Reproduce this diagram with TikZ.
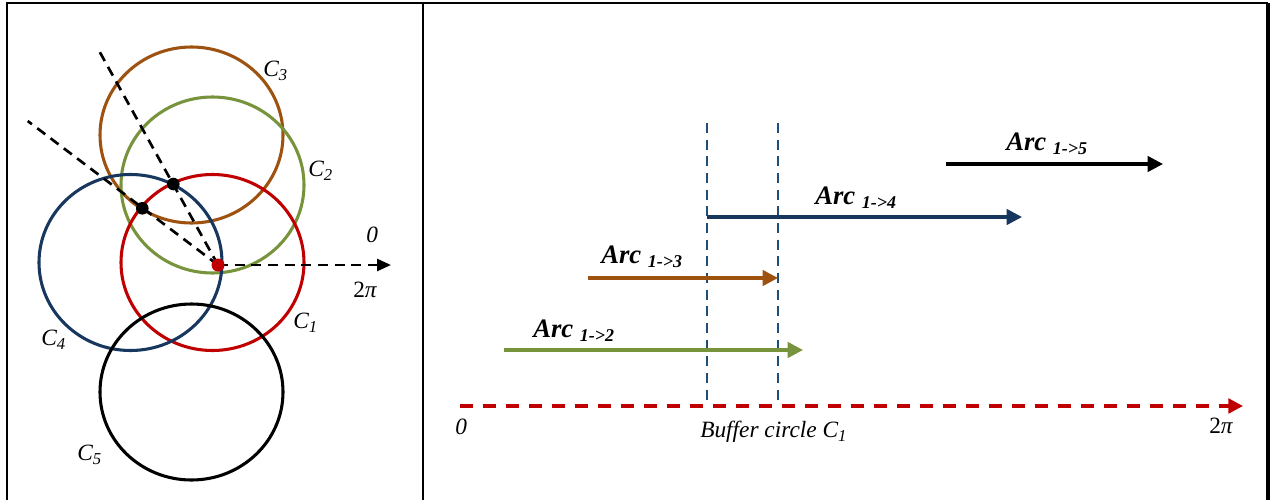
\documentclass[tikz,border=0pt]{standalone}
\usepackage{fontspec}
\setmainfont{Liberation Serif}
\usetikzlibrary{arrows.meta}
\definecolor{cred}{RGB}{192,0,0}
\definecolor{cgreen}{RGB}{119,147,60}
\definecolor{cbrown}{RGB}{158,82,16}
\definecolor{cnavy}{RGB}{23,55,94}
\definecolor{cdblue}{RGB}{31,78,121}
\newcommand{\arclab}[1]{{\fontsize{20}{22}\selectfont\bfseries\itshape Arc {\fontsize{13.5}{14}\selectfont\raisebox{-3pt}{#1}}}}
\newcommand{\clab}[1]{{\fontsize{17.5}{20}\selectfont\itshape C\raisebox{-3.2pt}{\fontsize{12.5}{14}\selectfont #1}}}
\begin{document}
\begin{tikzpicture}[x=0.75pt,y=-0.75pt,
  frame/.style={line width=1.9pt,black},
  circ/.style={line width=2.3pt},
  dline/.style={line width=2pt,black,dash pattern=on 7.5pt off 5pt},
  vline/.style={line width=2pt,cdblue,dash pattern=on 7.5pt off 5pt},
  arcarrow/.style={line width=2.5pt,-{Triangle[length=11.5pt,width=11.5pt]}},
  lbl/.style={inner sep=0pt,anchor=base west}]
\useasboundingbox (0,0) rectangle (1271,500);
% frame
\coordinate (TL) at (7,3);
\coordinate (TR) at (1268,3);
\coordinate (BL) at (7,500);
\coordinate (BR) at (1268,500);
\coordinate (DT) at (423,3);
\coordinate (DB) at (423,500);
\draw[frame] (BL) -- (TL) -- (TR);
\draw[frame,line width=2.6pt] (TR) -- (BR);
\draw[frame] (DT) -- (DB);
% circles
\draw[circ,cbrown] (191.5,135) ellipse [x radius=91.5, y radius=88];
\draw[circ,cgreen] (212.5,185) ellipse [x radius=91.5, y radius=88];
\draw[circ,cred] (212.5,262.5) ellipse [x radius=91.5, y radius=88];
\draw[circ,cnavy] (130.5,262.5) ellipse [x radius=91.5, y radius=88];
\draw[circ,black] (191.5,392) ellipse [x radius=91.5, y radius=88];
% rays
\coordinate (O) at (218,265);
\coordinate (P1) at (173.3,184);
\coordinate (P2) at (142.3,208.3);
\coordinate (E1) at (97.7,48.3);
\coordinate (E2) at (27.7,121);
\coordinate (E0) at (391,265);
\draw[dline] (O) -- (E1);
\draw[dline] (O) -- (E2);
\draw[dline,-{Triangle[length=10.5pt,width=9pt]}] (O) -- (E0);
\fill[black] (P1) circle [radius=6.3];
\fill[black] (P2) circle [radius=6.3];
\fill[cred] (O) circle [radius=6.5];
% circle labels
\node[lbl] (l3) at (263,76.7) {\clab{3}};
\node[lbl] (l2) at (308,176.7) {\clab{2}};
\node[lbl] (l1) at (293,328) {\clab{1}};
\node[lbl] (l4) at (41,345) {\clab{4}};
\node[lbl] (l5) at (77,460) {\clab{5}};
\node[lbl] (z0) at (366,242) {\fontsize{17.5}{20}\selectfont\itshape 0};
\node[lbl] (tp) at (353,297) {\fontsize{17.5}{20}\selectfont 2\textit{π}};
% right panel
\coordinate (V1t) at (707,123);
\coordinate (V1b) at (707,405);
\coordinate (V2t) at (778,123);
\coordinate (V2b) at (778,405);
\draw[vline] (V1t) -- (V1b);
\draw[vline] (V2t) -- (V2b);
\coordinate (Rs) at (460,406);
\coordinate (Re) at (1243,406);
\draw[line width=2.4pt,cred,dash pattern=on 9.75pt off 7.5pt,-{Triangle[length=11pt,width=11pt]}] (Rs) -- (Re);
\coordinate (Gs) at (504,350);
\coordinate (Ge) at (803,350);
\draw[arcarrow,cgreen] (Gs) -- (Ge);
\coordinate (Bs) at (588,278);
\coordinate (Be) at (778,278);
\draw[arcarrow,cbrown] (Bs) -- (Be);
\coordinate (Ns) at (707,217);
\coordinate (Ne) at (1022,217);
\draw[arcarrow,cnavy] (Ns) -- (Ne);
\coordinate (Ks) at (946,164);
\coordinate (Ke) at (1163,164);
\draw[arcarrow,black] (Ks) -- (Ke);
\node[lbl] (a2) at (533,337.7) {\arclab{1->2}};
\node[lbl] (a3) at (601,263.3) {\arclab{1->3}};
\node[lbl] (a4) at (815,204.3) {\arclab{1->4}};
\node[lbl] (a5) at (1006,150) {\arclab{1->5}};
\node[lbl] (r0) at (455,434) {\fontsize{17.5}{20}\selectfont\itshape 0};
\node[lbl] (buf) at (700,437) {\fontsize{17.5}{20}\selectfont\itshape Buffer circle C\raisebox{-3pt}{\fontsize{12.5}{14}\selectfont 1}};
\node[lbl] (r2p) at (1209,433) {\fontsize{17.5}{20}\selectfont 2\textit{π}};
\end{tikzpicture}
\end{document}
